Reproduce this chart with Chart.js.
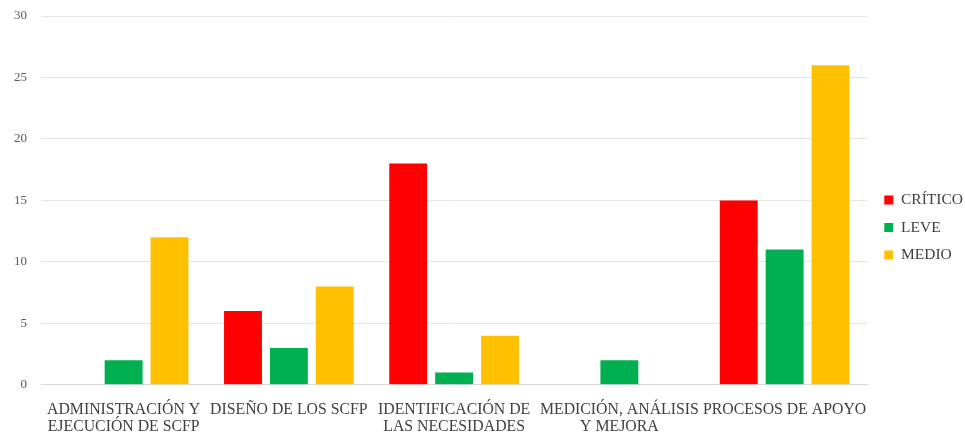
<!DOCTYPE html>
<html>
<head>
<meta charset="utf-8">
<script src="https://cdn.jsdelivr.net/npm/chart.js@4"></script>
<style>
  html, body { margin: 0; padding: 0; background: #ffffff; }
  #wrap { width: 965px; height: 436px; }
</style>
</head>
<body>
<div id="wrap"><canvas id="chart" width="965" height="436"></canvas></div>
<script>
// Hallazgos por proceso y nivel de criticidad
const categories = [
  ["ADMINISTRACIÓN Y", "EJECUCIÓN DE SCFP"],
  ["DISEÑO DE LOS SCFP"],
  ["IDENTIFICACIÓN DE", "LAS NECESIDADES"],
  ["MEDICIÓN, ANÁLISIS", "Y MEJORA"],
  ["PROCESOS DE APOYO"]
];
const critico = [0, 6, 18, 0, 15];
const leve    = [2, 3, 1, 2, 11];
const medio   = [12, 8, 4, 0, 26];
const yTicks  = [0, 5, 10, 15, 20, 25, 30];

const serif = "'Liberation Serif', 'DejaVu Serif', serif";

// Nudges the legend a few pixels to the right of the plot area
const legendShift = {
  id: 'legendShift',
  afterLayout(chart) {
    const lg = chart.legend;
    if (lg) { lg.left += 5; lg.right += 5; }
  }
};

new Chart(document.getElementById('chart'), {
  type: 'bar',
  data: {
    labels: categories,
    datasets: [
      { label: 'CRÍTICO', data: critico, backgroundColor: '#ff0000' },
      { label: 'LEVE',    data: leve,    backgroundColor: '#00b050' },
      { label: 'MEDIO',   data: medio,   backgroundColor: '#ffc000' }
    ]
  },
  plugins: [legendShift],
  options: {
    responsive: false,
    animation: false,
    layout: { padding: { top: 0, right: -3, left: 0, bottom: 0 } },
    datasets: { bar: { categoryPercentage: 0.833, barPercentage: 0.826 } },
    plugins: {
      tooltip: { enabled: false },
      legend: {
        position: 'right',
        title: { display: true, text: ' ', padding: 0, font: { size: 16 } },
        labels: {
          boxWidth: 9, boxHeight: 9, padding: 12,
          color: '#404040',
          font: { family: serif, size: 15.5 }
        }
      }
    },
    scales: {
      x: {
        grid: { display: false },
        border: { color: '#d9d9d9' },
        afterFit: (axis) => { axis.height -= 7; },
        ticks: {
          color: '#404040', maxRotation: 0, autoSkip: false, padding: 8,
          font: { family: serif, size: 15.8, lineHeight: 1.08 }
        }
      },
      y: {
        min: 0, max: 30,
        afterBuildTicks: (axis) => { axis.ticks = yTicks.map(v => ({ value: v })); },
        afterFit: (axis) => { axis.paddingTop = 16; },
        grid: { color: '#e4e4e4', drawTicks: false },
        border: { display: false },
        ticks: {
          color: '#595959', padding: 14,
          font: { family: serif, size: 13 }
        }
      }
    }
  }
});
</script>
</body>
</html>
